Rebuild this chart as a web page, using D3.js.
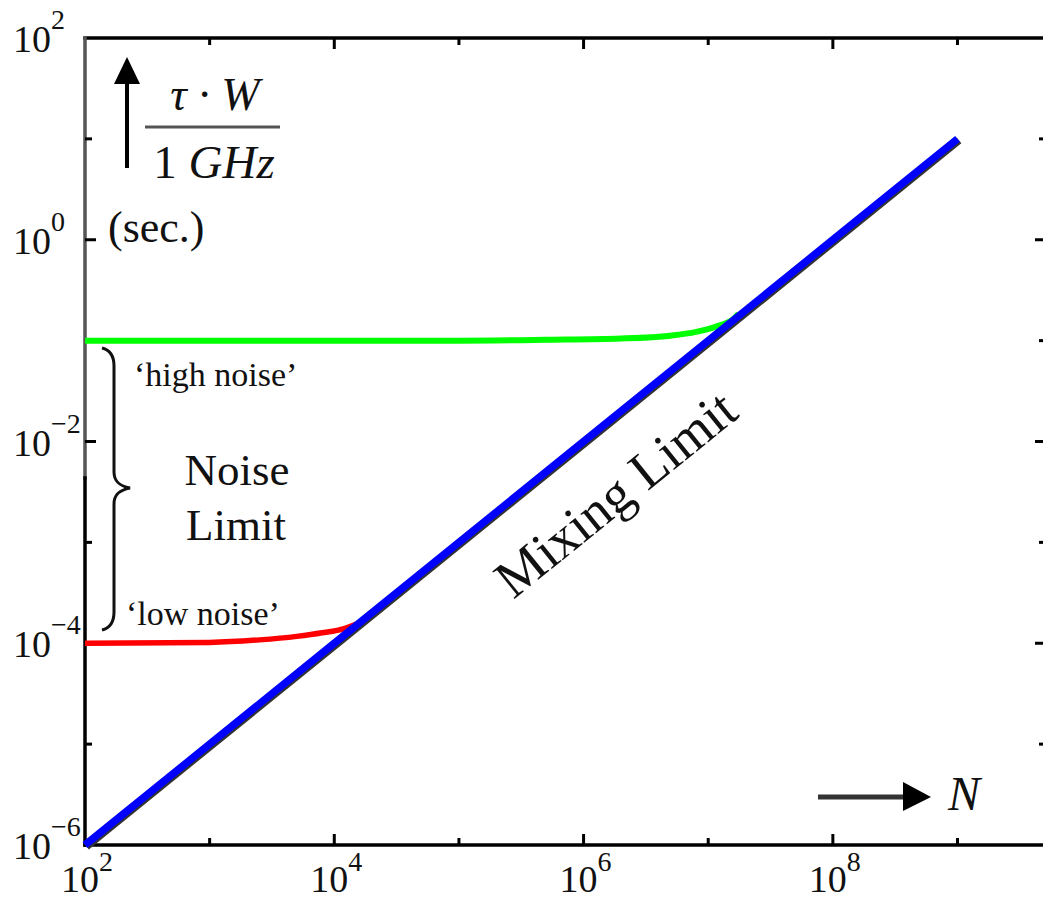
<!DOCTYPE html>
<html>
<head>
<meta charset="utf-8">
<script src="https://cdnjs.cloudflare.com/ajax/libs/d3/7.8.5/d3.min.js"></script>
<style>
  html, body { margin: 0; padding: 0; background: #fff; }
  svg { display: block; }
  text { font-family: "Liberation Serif", "Times New Roman", serif; fill: #111; }
</style>
</head>
<body>
<div id="chart"></div>
<script>
// values
var xTickValues = [1e2, 1e3, 1e4, 1e5, 1e6, 1e7, 1e8, 1e9];
var xLabelExps = [2, 4, 6, 8];
var yTickValues = [1e2, 1e1, 1e0, 1e-1, 1e-2, 1e-3, 1e-4, 1e-5, 1e-6];
var yLabelExps = [2, 0, -2, -4, -6];

// mixing limit (blue)
var mixingN = [1e2, 1e4, 1e6, 1e8, 1e9];
var mixingTau = [1e-6, 1e-4, 1e-2, 1e0, 1e1];

// high noise (green)
var highN = [1e2, 1e5, 5e5, 2e6, 5e6, 8e6, 1.2e7, 1.6e7, 1.75e7];
var highTau = [0.1, 0.1, 0.102, 0.105, 0.112, 0.122, 0.14, 0.165, 0.185];

// low noise (red)
var lowN = [1e2, 1e3, 2.5e3, 5e3, 8e3, 1.2e4, 1.5e4];
var lowTau = [1.0e-4, 1.02e-4, 1.08e-4, 1.17e-4, 1.27e-4, 1.4e-4, 1.55e-4];

var width = 1043, height = 901;
var plotLeft = 85, plotRight = 1046, plotTop = 38, plotBottom = 845;

var svg = d3.select("#chart").append("svg")
    .attr("width", width)
    .attr("height", height);

var x = d3.scaleLog().domain([1e2, Math.pow(10, 9.71)]).range([plotLeft, plotRight]);
var y = d3.scaleLog().domain([1e-6, 1e2]).range([plotBottom, plotTop]);

function isMajor(v) {
    return Math.round(Math.log10(v)) % 2 === 0;
}

// frame
var frame = svg.append("g").attr("stroke-width", 3.5).attr("stroke-linecap", "square");
frame.append("line").attr("x1", plotLeft).attr("x2", plotRight).attr("y1", plotTop).attr("y2", plotTop).attr("stroke", "#000");
frame.append("line").attr("x1", plotLeft).attr("x2", plotRight).attr("y1", plotBottom).attr("y2", plotBottom).attr("stroke", "#000");
frame.append("line").attr("x1", plotLeft).attr("x2", plotLeft).attr("y1", plotTop).attr("y2", 478).attr("stroke", "#555");
frame.append("line").attr("x1", plotLeft).attr("x2", plotLeft).attr("y1", 478).attr("y2", plotBottom).attr("stroke", "#000");
frame.append("line").attr("x1", plotRight).attr("x2", plotRight).attr("y1", plotTop).attr("y2", plotBottom).attr("stroke", "#000");

// ticks on all four sides, pointing inward
var ticks = svg.append("g").attr("stroke", "#000").attr("stroke-width", 3);
xTickValues.slice(1).forEach(function(v) {
    var len = isMajor(v) ? 11 : 7;
    ticks.append("line").attr("x1", x(v)).attr("x2", x(v)).attr("y1", plotBottom).attr("y2", plotBottom - len);
    ticks.append("line").attr("x1", x(v)).attr("x2", x(v)).attr("y1", plotTop).attr("y2", plotTop + len);
});
yTickValues.slice(1, -1).forEach(function(v) {
    var len = isMajor(v) ? 11 : 7;
    ticks.append("line").attr("x1", plotLeft).attr("x2", plotLeft + len).attr("y1", y(v)).attr("y2", y(v));
    ticks.append("line").attr("x1", plotRight).attr("x2", plotRight - len).attr("y1", y(v)).attr("y2", y(v));
});

function expText(e) {
    return e < 0 ? "\u2212" + Math.abs(e) : String(e);
}

// x tick labels
var xl = svg.append("g");
xLabelExps.forEach(function(e) {
    var px = x(Math.pow(10, e));
    xl.append("text").attr("x", px + 14).attr("y", 892)
        .attr("text-anchor", "end").style("font-size", "38px").text("10");
    xl.append("text").attr("x", px + 14).attr("y", 871)
        .style("font-size", "28px").text(expText(e));
});

// y tick labels
var yl = svg.append("g");
yLabelExps.forEach(function(e) {
    var py = y(Math.pow(10, e));
    yl.append("text").attr("x", 13).attr("y", py + 14)
        .style("font-size", "38px").text("10");
    yl.append("text").attr("x", 51).attr("y", py - 9)
        .style("font-size", "28px").text(expText(e));
});

// series
var line = d3.line()
    .x(function(d) { return x(d[0]); })
    .y(function(d) { return y(d[1]); });

var smooth = d3.line()
    .x(function(d) { return x(d[0]); })
    .y(function(d) { return y(d[1]); })
    .curve(d3.curveMonotoneX);

var highData = highN.map(function(n, i) { return [n, highTau[i]]; });
var lowData = lowN.map(function(n, i) { return [n, lowTau[i]]; });
var mixData = mixingN.map(function(n, i) { return [n, mixingTau[i]]; });

svg.append("path").attr("d", smooth(highData))
    .attr("fill", "none").attr("stroke", "#00ff00").attr("stroke-width", 6);
svg.append("path").attr("d", smooth(lowData))
    .attr("fill", "none").attr("stroke", "#ff0000").attr("stroke-width", 5.5);

// blue line with its dark edge
svg.append("path").attr("d", line(mixData))
    .attr("transform", "translate(1.5,1.5)")
    .attr("fill", "none").attr("stroke", "#333").attr("stroke-width", 7.5);
svg.append("path").attr("d", line(mixData))
    .attr("fill", "none").attr("stroke", "#0000ff").attr("stroke-width", 7.5);

// y label: arrow and fraction
var ann = svg.append("g");
ann.append("line").attr("x1", 127).attr("x2", 127).attr("y1", 168).attr("y2", 80)
    .attr("stroke", "#000").attr("stroke-width", 4);
ann.append("polygon").attr("points", "114,84 127,57 140,84").attr("fill", "#000");

ann.append("text").attr("x", 215).attr("y", 110).attr("text-anchor", "middle")
    .style("font-size", "46px").style("font-style", "italic").text("\u03c4 \u00b7 W");
ann.append("line").attr("x1", 145).attr("x2", 280).attr("y1", 127).attr("y2", 127)
    .attr("stroke", "#555").attr("stroke-width", 3);
var g1 = ann.append("text").attr("x", 214).attr("y", 178).attr("text-anchor", "middle")
    .style("font-size", "47px");
g1.append("tspan").text("1 ");
g1.append("tspan").style("font-style", "italic").text("GHz");

ann.append("text").attr("x", 108).attr("y", 242)
    .style("font-size", "44px").text("(sec.)");

// noise brace
ann.append("path")
    .attr("d", "M102,348 C110,350 114,356 114,366 L114,472 C114,482 120,486 130,488 " +
               "C120,490 114,494 114,504 L114,612 C114,622 110,628 102,630")
    .attr("fill", "none").attr("stroke", "#111").attr("stroke-width", 3);

ann.append("text").attr("x", 134).attr("y", 386)
    .style("font-size", "34px").text("\u2018high noise\u2019");
ann.append("text").attr("x", 237).attr("y", 485).attr("text-anchor", "middle")
    .style("font-size", "45px").text("Noise");
ann.append("text").attr("x", 236).attr("y", 540).attr("text-anchor", "middle")
    .style("font-size", "45px").text("Limit");
ann.append("text").attr("x", 126).attr("y", 625)
    .style("font-size", "34px").text("\u2018low noise\u2019");

ann.append("text")
    .attr("transform", "translate(627,508) rotate(-39)")
    .attr("text-anchor", "middle")
    .style("font-size", "54px").text("Mixing Limit");

// x label arrow
ann.append("line").attr("x1", 818).attr("x2", 906).attr("y1", 797).attr("y2", 797)
    .attr("stroke", "#333").attr("stroke-width", 5);
ann.append("polygon").attr("points", "903,782 931,797 903,811").attr("fill", "#000");
ann.append("text").attr("x", 948).attr("y", 810)
    .style("font-size", "48px").style("font-style", "italic").text("N");
</script>
</body>
</html>
